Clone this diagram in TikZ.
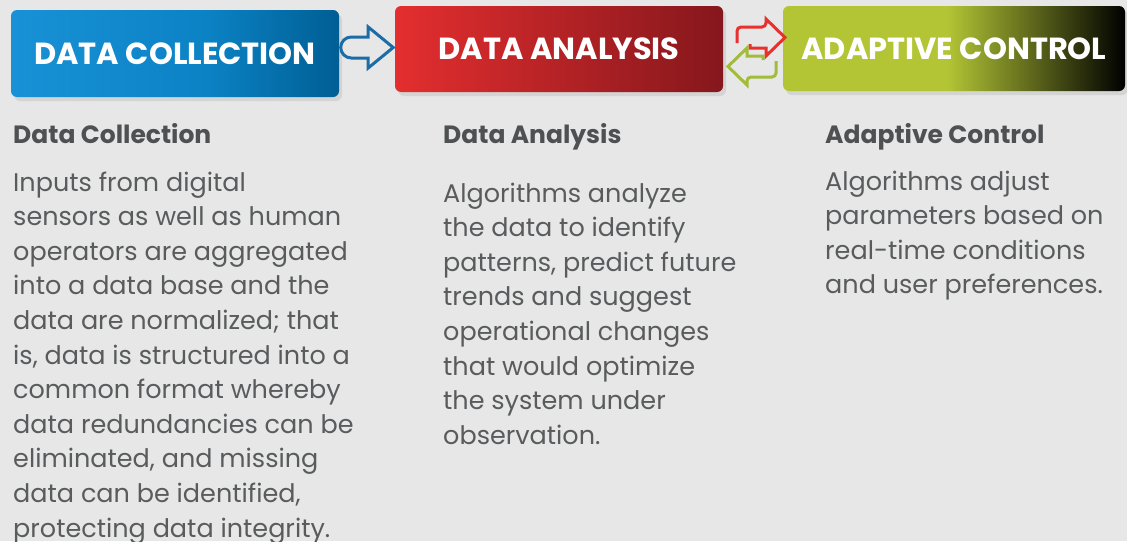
\documentclass[tikz,border=0pt]{standalone}
\usepackage{fontspec}
\setmainfont{Poppins}
\usepackage{tikz}
\usetikzlibrary{positioning,calc,shadows}

\definecolor{bgray}{HTML}{E6E7E6}
\definecolor{txtgray}{HTML}{5A5B5D}
\definecolor{headgray}{HTML}{4F5052}
\definecolor{collL}{HTML}{1991D6}
\definecolor{collM}{HTML}{0B82C4}
\definecolor{collR}{HTML}{005E94}
\definecolor{anaL}{HTML}{E42E2F}
\definecolor{anaR}{HTML}{85171C}
\definecolor{ctrlgreen}{HTML}{B3C535}
\definecolor{arrblue}{HTML}{1E6CA6}
\definecolor{arrred}{HTML}{E8302E}
\definecolor{arrgreen}{HTML}{A2BB3A}

\pgfdeclarehorizontalshading{collshade}{100bp}{color(0bp)=(collL); color(25bp)=(collL); color(55bp)=(collM); color(75bp)=(collR); color(100bp)=(collR)}
\pgfdeclarehorizontalshading{anashade}{100bp}{color(0bp)=(anaL); color(25bp)=(anaL); color(75bp)=(anaR); color(100bp)=(anaR)}
\pgfdeclarehorizontalshading{ctrlshade}{100bp}{color(0bp)=(ctrlgreen); color(25bp)=(ctrlgreen); color(49bp)=(ctrlgreen); color(75bp)=(black); color(100bp)=(black)}

\tikzset{
    stagebox/.style={rounded corners=6pt, shade, text=white, inner sep=0pt,
        font=\bfseries\fontsize{30.5}{30.5}\selectfont,
        drop shadow={shadow xshift=3pt, shadow yshift=-4pt, opacity=0.18}},
    heading/.style={anchor=base west, inner sep=0pt, text=headgray,
        font=\bfseries\fontsize{25}{25}\selectfont},
    bodytext/.style={anchor=base west, inner sep=0pt, align=left, text=txtgray,
        font=\fontsize{25.5}{34.6}\selectfont},
    arrowline/.style={line width=3pt, line join=miter}
}

\begin{document}
\begin{tikzpicture}[x=1pt, y=-1pt]
    \fill[bgray] (0,0) rectangle (1127,541);
    \useasboundingbox (0,0) rectangle (1127,541);

    % Stage boxes
    \node[stagebox, shading=collshade, minimum width=328pt, minimum height=87pt] (dc) at (175,53.5) {DATA COLLECTION};
    \node[stagebox, shading=anashade, minimum width=328pt, minimum height=86pt] (da) at (559,49) {DATA ANALYSIS};
    \node[stagebox, shading=ctrlshade, minimum width=342pt, minimum height=85pt] (ac) at (954,48.5) {ADAPTIVE CONTROL};

    % Hollow arrow: collection -> analysis
    \begin{scope}[shift={(dc.east)}]
        \draw[arrowline, draw=arrblue] (29,-16.5) -- (12,-16.5) arc[start angle=90, end angle=270, radius=10.5pt] -- (29,4.5) -- (29,14.5) -- (54,-6) -- (29,-26.5) -- cycle;
    \end{scope}

    % Feedback loop: analysis <-> control
    \coordinate (loop) at ($(da.east)!.5!(ac.west)+(3.5,3.25)$);
    \begin{scope}[shift={(loop)}]
        \draw[arrowline, draw=arrred] (-19.5,-9) [rounded corners=4pt] -- (-19.5,-25) -- (9.5,-25) [sharp corners] -- (9.5,-33) -- (28.5,-14.5) -- (9.5,4) -- (9.5,-4) -- (-6.5,-4) -- (-6.5,-8);
        \draw[arrowline, draw=arrgreen, rotate=180] (-19.5,-9) [rounded corners=4pt] -- (-19.5,-25) -- (9.5,-25) [sharp corners] -- (9.5,-33) -- (28.5,-14.5) -- (9.5,4) -- (9.5,-4) -- (-6.5,-4) -- (-6.5,-8);
    \end{scope}

    % Descriptions (multi-line nodes sit on their last baseline)
    \node[heading] (dch) at (13,143) {Data Collection};
    \node[bodytext] (dcb) at (13,537) {Inputs from digital\\sensors as well as human\\operators are aggregated\\into a data base and the\\data are normalized; that\\is, data is structured into a\\common format whereby\\data redundancies can be\\eliminated, and missing\\data can be identified,\\protecting data integrity.};

    \node[heading] (dah) at (443,143) {Data Analysis};
    \node[bodytext] (dab) at (443,444.2) {Algorithms analyze\\the data to identify\\patterns, predict future\\trends and suggest\\operational changes\\that would optimize\\the system under\\observation.};

    \node[heading] (ach) at (825,143) {Adaptive Control};
    \node[bodytext] (acb) at (825,293.8) {Algorithms adjust\\parameters based on\\real-time conditions\\and user preferences.};
\end{tikzpicture}
\end{document}
